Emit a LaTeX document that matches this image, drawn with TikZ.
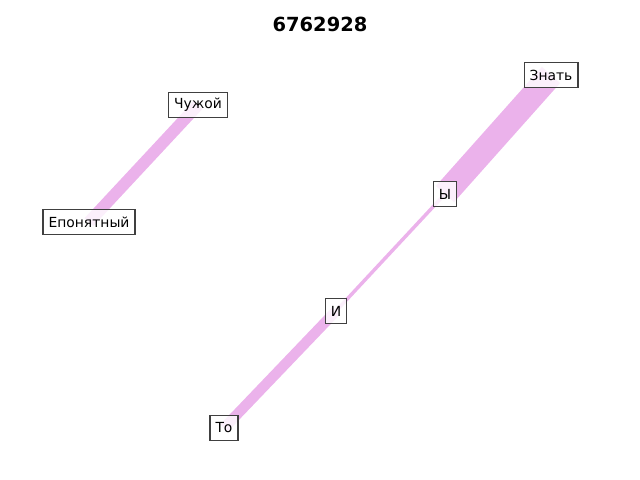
\documentclass[tikz,border=0pt]{standalone}
\usepackage{fontspec}
\setmainfont{DejaVu Sans}
\definecolor{band}{RGB}{235,178,235}
\definecolor{boxline}{RGB}{64,64,64}
\tikzset{
  lbl/.style={draw=boxline, line width=0.8pt, fill=white, fill opacity=0.8, text opacity=1,
    font=\fontsize{10}{12}\selectfont, inner xsep=4pt, inner ysep=0pt, minimum height=18pt},
  bandline/.style={draw=band, line cap=butt},
}
\begin{document}
\begin{tikzpicture}[x=0.72pt,y=-0.72pt]
\useasboundingbox (0,0) rectangle (640,480);
\node[font=\bfseries\fontsize{14}{16}\selectfont] (title) at (320,24) {6762928};
\coordinate (cE) at (89,222);
\coordinate (cC) at (198,105);
\coordinate (cZ) at (551,75);
\coordinate (cY) at (445,194);
\coordinate (cI) at (336,311);
\coordinate (cT) at (224,428);
\draw[bandline, line width=8.5pt] (cE) -- (cC);
\draw[bandline, line width=17.5pt] (cZ) -- (cY);
\draw[bandline, line width=2.5pt] (cY) -- (cI);
\draw[bandline, line width=7.5pt] (cI) -- (cT);
\node[lbl] (E) at (cE) {Епонятный};
\node[lbl] (C) at (cC) {Чужой};
\node[lbl] (Z) at (cZ) {Знать};
\node[lbl] (Y) at (cY) {Ы};
\node[lbl] (I) at (cI) {И};
\node[lbl] (T) at (cT) {То};
\end{tikzpicture}
\end{document}
